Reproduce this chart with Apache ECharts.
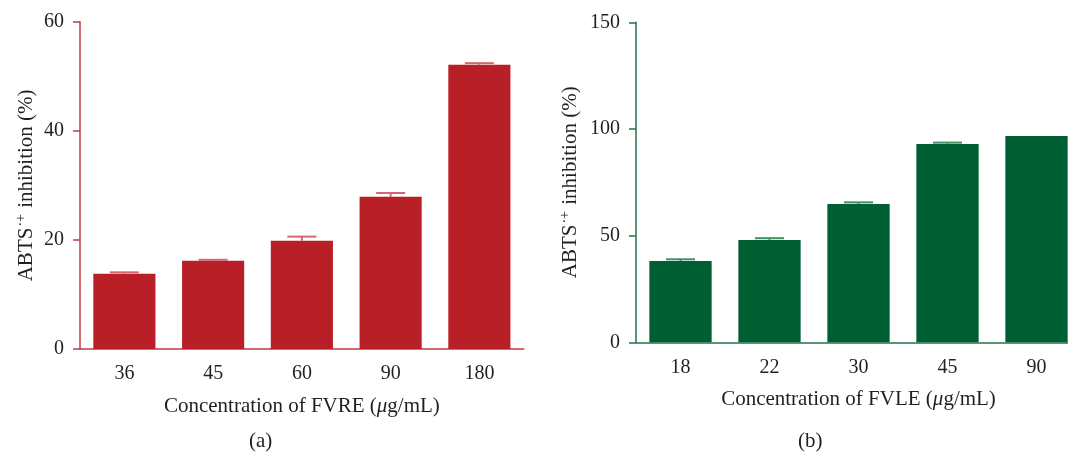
<!DOCTYPE html>
<html>
<head>
<meta charset="utf-8">
<script src="https://cdn.jsdelivr.net/npm/echarts@6/dist/echarts.min.js"></script>
<style>html,body{margin:0;padding:0;background:#fff}#c{width:1068px;height:453px}</style>
</head>
<body>
<div id="c"></div>
<script>
// Panel (a): FVRE
const catsA = ['36', '45', '60', '90', '180'];
const valsA = [13.8, 16.2, 19.85, 27.9, 52.1];
const errsA = [0.25, 0.15, 0.75, 0.7, 0.3];
const ticksA = [0, 20, 40, 60];
// Panel (b): FVLE
const catsB = ['18', '22', '30', '45', '90'];
const valsB = [38.1, 48.0, 64.8, 93.0, 96.7];
const errsB = [0.8, 0.8, 0.8, 0.6, 0];
const ticksB = [0, 50, 100, 150];

const FONT = 'Liberation Serif';
const TXT = '#231f20';
const redBar = '#b81f26', redAxis = '#c43a44', redErr = '#d4676e';
const grnBar = '#005e33', grnAxis = '#24744a', grnErr = '#3f8f62';

function errSeries(idx, cats, vals, errs, color) {
  return {
    type: 'custom', xAxisIndex: idx, yAxisIndex: idx, z: 5, clip: false,
    data: cats.map((c, i) => [i, vals[i], errs[i]]),
    renderItem: function (params, api) {
      const e = api.value(2);
      if (!e) return null;
      const x = api.value(0), v = api.value(1);
      const top = api.coord([x, v + e]);
      const base = api.coord([x, v]);
      const w = 29;
      return {
        type: 'group', children: [
          { type: 'line', shape: { x1: top[0] - w / 2, y1: top[1], x2: top[0] + w / 2, y2: top[1] }, style: { stroke: color, lineWidth: 2 } },
          { type: 'line', shape: { x1: top[0], y1: top[1], x2: base[0], y2: base[1] }, style: { stroke: color, lineWidth: 2 } }
        ]
      };
    }
  };
}

function xAx(idx, cats, axisColor, name) {
  return {
    type: 'category', gridIndex: idx, data: cats,
    axisLine: { lineStyle: { color: axisColor, width: 1.5 } },
    axisTick: { alignWithLabel: true, length: 7, lineStyle: { color: axisColor, width: 1.5 } },
    axisLabel: { color: TXT, fontFamily: FONT, fontSize: 20, margin: 15 },
    name: name, nameLocation: 'middle', nameGap: 47,
    nameTextStyle: { color: TXT, fontFamily: FONT, fontSize: 21, rich: { i: { fontFamily: FONT, fontStyle: 'italic', fontSize: 21, color: TXT } } }
  };
}

function yAx(idx, ticks, axisColor, gap) {
  return {
    type: 'value', gridIndex: idx, min: ticks[0], max: ticks[ticks.length - 1], interval: ticks[1] - ticks[0],
    splitLine: { show: false },
    axisLine: { show: true, lineStyle: { color: axisColor, width: 1.5 } },
    axisTick: { show: true, length: 7, lineStyle: { color: axisColor, width: 1.5 } },
    axisLabel: { color: TXT, fontFamily: FONT, fontSize: 20, margin: 16 },
    name: 'ABTS{sup|·+} inhibition (%)', nameLocation: 'middle', nameGap: gap,
    nameTextStyle: {
      color: TXT, fontFamily: FONT, fontSize: 21, lineHeight: 24,
      rich: { sup: { fontFamily: FONT, fontSize: 14, color: TXT, verticalAlign: 'top', lineHeight: 12, padding: [0, 1, 0, 1] } }
    }
  };
}

const chart = echarts.init(document.getElementById('c'), null, { renderer: 'canvas' });
chart.setOption({
  backgroundColor: '#fff',
  animation: false,
  grid: [
    { left: 80, top: 21.7, width: 443.75, height: 327.3, outerBoundsMode: 'none' },
    { left: 636, top: 22.3, width: 445, height: 320, outerBoundsMode: 'none' }
  ],
  xAxis: [
    xAx(0, catsA, redAxis, 'Concentration of FVRE ({i|μ}g/mL)'),
    xAx(1, catsB, grnAxis, 'Concentration of FVLE ({i|μ}g/mL)')
  ],
  yAxis: [yAx(0, ticksA, redAxis, 42), yAx(1, ticksB, grnAxis, 54)],
  series: [
    { type: 'bar', xAxisIndex: 0, yAxisIndex: 0, data: valsA, barCategoryGap: '30%', itemStyle: { color: redBar }, z: 2 },
    { type: 'bar', xAxisIndex: 1, yAxisIndex: 1, data: valsB, barCategoryGap: '30%', itemStyle: { color: grnBar }, z: 2 },
    errSeries(0, catsA, valsA, errsA, redErr),
    errSeries(1, catsB, valsB, errsB, grnErr)
  ],
  graphic: [
    { type: 'text', left: 249, top: 431, style: { text: '(a)', font: '21px "Liberation Serif"', fill: TXT } },
    { type: 'text', left: 798, top: 431, style: { text: '(b)', font: '21px "Liberation Serif"', fill: TXT } }
  ]
});
</script>
</body>
</html>
